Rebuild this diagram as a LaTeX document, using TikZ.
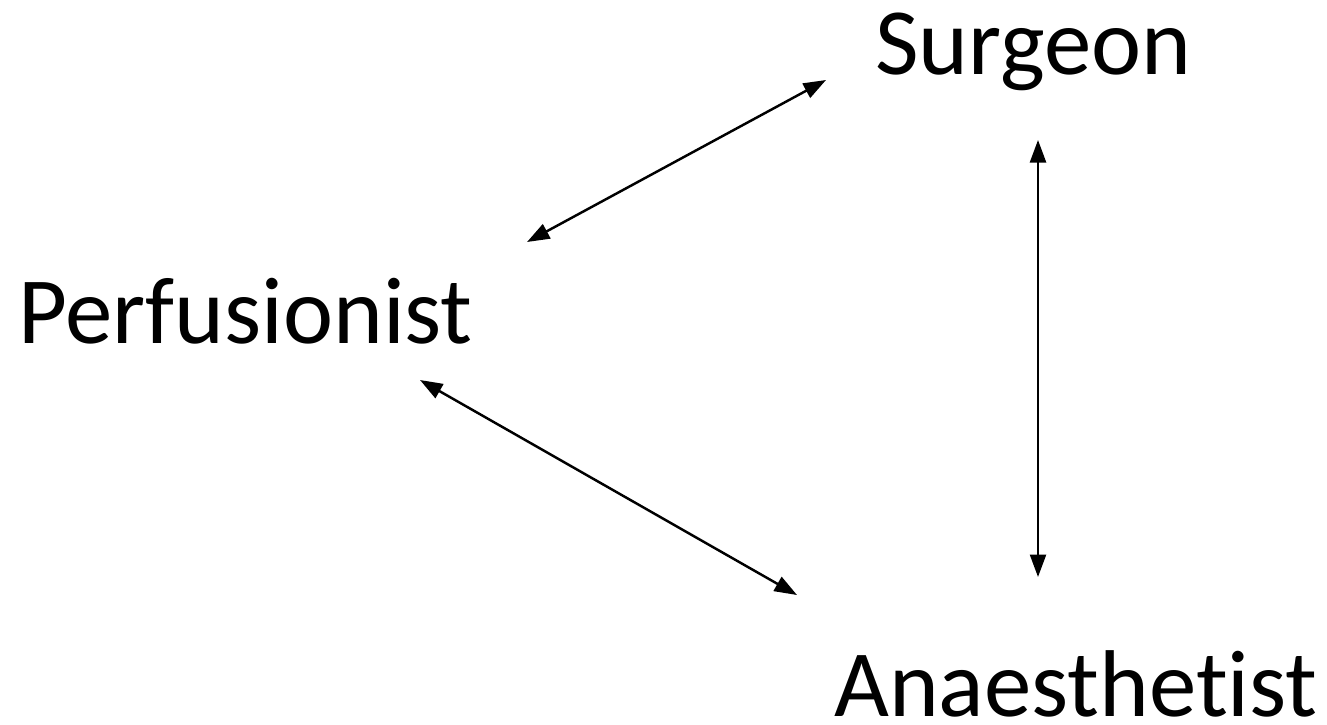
\documentclass[tikz,border=0pt]{standalone}
\usepackage{fontspec}
\setmainfont{Carlito}[Ligatures=NoCommon]
\usepackage{tikz}
\usetikzlibrary{arrows.meta, positioning}

\begin{document}
\begin{tikzpicture}[x=0.02cm, y=-0.02cm, <->, >={Triangle[length=4.5mm, width=3.2mm]},
  line width=1.4pt,
  role node/.style={inner sep=0, anchor=base west,
    font=\fontsize{54}{64}\selectfont}]
  \useasboundingbox (0,0) rectangle (1327,724);
  \node[role node] (1) at (17,343) {Perfusionist};
  \node[role node] (2) at (874,74) {Surgeon};
  \node[role node] (3) at (833,716) {Anaesthetist};
  % arrow ends
  \coordinate (1s) at (527,242);
  \coordinate (2p) at (826,80);
  \coordinate (2a) at (1038,140);
  \coordinate (3s) at (1038,577);
  \coordinate (1a) at (420,380);
  \coordinate (3p) at (797,595);
  \draw (1s) -- (2p);
  \draw (2a) -- (3s);
  \draw (1a) -- (3p);
\end{tikzpicture}
\end{document}
